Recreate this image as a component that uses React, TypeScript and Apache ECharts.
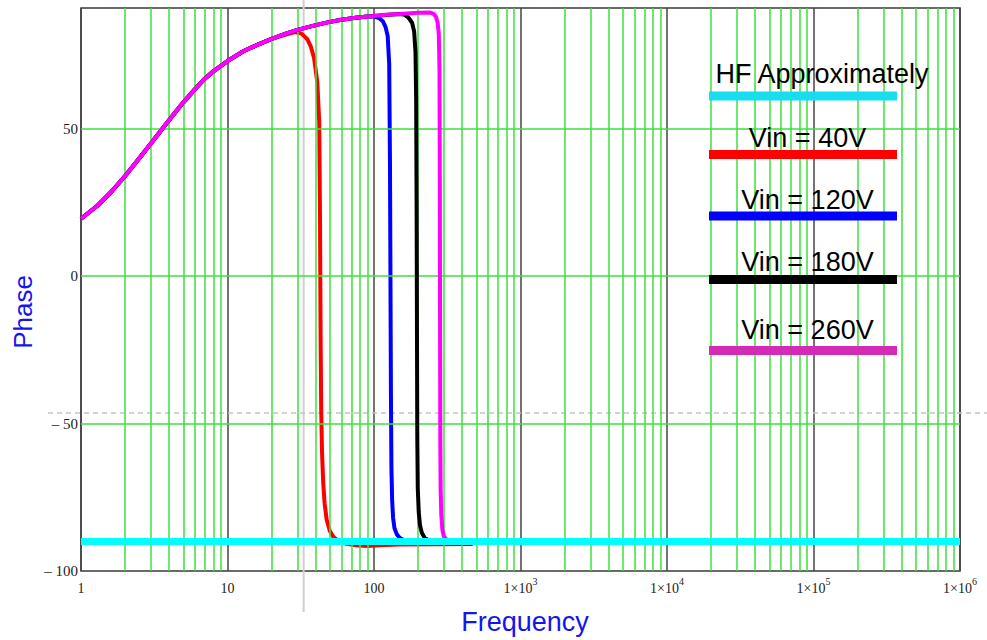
import React, { useEffect, useRef } from "react";
import * as echarts from "echarts";

// ---------- data ----------
// shared low-frequency rise (all Vin curves overlap here)
const commonRise: [number, number][] = [
  [1, 19.5], [1.3, 24], [1.6, 28.5], [2, 34], [2.5, 40], [3, 45], [4, 53],
  [5, 59], [6, 63.5], [7, 67], [8, 69.5], [10, 73], [13, 76.5], [16, 78.5], [20, 80.5],
];
const vin40Tail: [number, number][] = [
  [25, 82], [29, 82.8], [32, 82.3], [35, 80.5], [37, 78], [39, 74], [41, 66],
  [42.3, 52], [42.8, 20], [43.2, -20], [43.6, -45], [44.2, -60], [45, -70],
  [46, -77], [47.5, -82.5], [50, -86.5], [53, -88.5], [58, -90], [65, -90.8],
  [75, -91.3], [90, -91.5], [110, -91.3], [150, -91], [470, -90.8],
];
const highRise: [number, number][] = [
  [25, 82.3], [30, 83.6], [40, 85.2], [50, 86.3], [60, 87], [75, 87.7], [90, 88.1],
];
const vin120Tail: [number, number][] = [
  [100, 88.2], [108, 87.6], [115, 86.5], [120, 84.5], [124, 81.5], [127, 72],
  [128.5, 40], [129.5, 0], [130.5, -40], [131.5, -65], [133, -76], [135, -82],
  [138, -85.5], [143, -87.5], [150, -88.8], [165, -89.8], [200, -90.6], [470, -90.8],
];
const vin180Tail: [number, number][] = [
  [100, 88.3], [120, 88.6], [150, 89], [160, 88.8], [172, 87.7], [182, 86],
  [188, 83], [192, 76], [194, 60], [195.5, 20], [196.5, -20], [197.5, -55],
  [199, -72], [202, -80], [206, -84.5], [212, -87], [222, -88.8], [240, -89.8], [470, -90],
];
const vin260Tail: [number, number][] = [
  [100, 88.3], [120, 88.7], [150, 89], [200, 89.4], [240, 89.5], [255, 89],
  [265, 88], [272, 86], [277, 82], [280, 70], [281.5, 30], [282.5, -20],
  [283.5, -55], [285, -72], [288, -81], [293, -86], [300, -88.3], [315, -89.5],
  [340, -90], [470, -90],
];
const hfApprox: [number, number][] = [[1, -90], [1e6, -90]];

const seriesNames = ["HF Approximately", "Vin = 40V", "Vin = 120V", "Vin = 180V", "Vin = 260V"];
const minorMultipliers = [2, 3, 4, 5, 6, 7, 8, 9];
const decades = [1, 10, 100, 1e3, 1e4, 1e5];
const phaseGridValues = [50, 0, -50];
const cursorFreq = 33.1;
const cursorPhase = -46.4;

// ---------- component ----------
export default function App() {
  const ref = useRef<HTMLDivElement>(null);

  useEffect(() => {
    if (!ref.current) return;
    const chart = echarts.init(ref.current, undefined, { renderer: "svg" });

    const vin40 = [...commonRise, ...vin40Tail];
    const vin120 = [...commonRise, ...highRise, ...vin120Tail];
    const vin180 = [...commonRise, ...highRise, ...vin180Tail];
    const vin260 = [...commonRise, ...highRise, ...vin260Tail];

    const minorX: { xAxis: number }[] = [];
    decades.forEach((d) => minorMultipliers.forEach((m) => minorX.push({ xAxis: m * d })));
    const gridY = phaseGridValues.map((v) => ({ yAxis: v }));

    const serif = '"Liberation Serif", "Times New Roman", serif';
    const sans = '"Liberation Sans", Arial, sans-serif';

    const line = (name: string, data: [number, number][], color: string, width: number, z: number) => ({
      name,
      type: "line",
      data,
      showSymbol: false,
      symbol: "none",
      clip: true,
      z,
      lineStyle: { color, width },
      itemStyle: { color },
    });

    chart.setOption({
      animation: false,
      grid: {
        left: 81,
        right: 27,
        top: 8,
        bottom: 69,
        show: true,
        borderColor: "#3a3a3a",
        borderWidth: 1.5,
        backgroundColor: "transparent",
      },
      xAxis: {
        type: "log",
        logBase: 10,
        min: 1,
        max: 1e6,
        splitNumber: 6,
        axisLine: { show: false },
        axisTick: { show: false },
        splitLine: { show: true, lineStyle: { color: "#444", width: 1.5 } },
        axisLabel: {
          margin: 5,
          showMinLabel: true,
          showMaxLabel: true,
          formatter: (v: number) => {
            const e = Math.round(Math.log10(v));
            if (e < 3) return "{b|" + String(Math.round(v)) + "}";
            return "{b|1×10}{s|" + e + "}";
          },
          rich: {
            b: { fontFamily: serif, fontSize: 14, color: "#222", lineHeight: 19, verticalAlign: "bottom" },
            s: { fontFamily: serif, fontSize: 10, color: "#222", lineHeight: 11, verticalAlign: "top" },
          },
        },
      },
      yAxis: {
        type: "value",
        min: -100,
        max: 91,
        interval: 50,
        axisLine: { show: false },
        axisTick: { show: false },
        splitLine: { show: false },
        axisLabel: {
          margin: 3,
          fontFamily: serif,
          fontSize: 15,
          color: "#222",
          formatter: (v: number) => {
            if (Math.abs(v % 50) > 1e-6) return "";
            return v < 0 ? "– " + String(-v) : String(v);
          },
        },
      },
      series: [
        {
          name: "grid",
          type: "line",
          data: [],
          z: 1,
          silent: true,
          markLine: {
            silent: true,
            symbol: ["none", "none"],
            label: { show: false },
            lineStyle: { color: "#3be23b", width: 1.5, type: "solid" },
            emphasis: { disabled: true },
            data: [...minorX, ...gridY],
          },
        },
        line(seriesNames[1], vin40, "#ff0000", 4, 3),
        line(seriesNames[2], vin120, "#0000ff", 4, 4),
        line(seriesNames[3], vin180, "#000000", 4, 5),
        line(seriesNames[4], vin260, "#ff00ff", 4, 6),
        line(seriesNames[0], hfApprox, "#00ffff", 7, 7),
      ],
    });

    const p = chart.convertToPixel({ gridIndex: 0 }, [cursorFreq, cursorPhase]) as number[];

    const legendColors = ["#18dcf0", "#ff0000", "#0000ff", "#000000", "#d42bb7"];
    const legendLineY = [96, 154.5, 216, 279.5, 350.5];
    const legendTextY = [74, 138, 200, 262, 330];

    const elements: any[] = [
      {
        type: "line",
        z: 1,
        silent: true,
        shape: { x1: p[0], y1: 0, x2: p[0], y2: 612 },
        style: { stroke: "#cfcfcf", lineWidth: 2 },
      },
      {
        type: "line",
        z: 1,
        silent: true,
        shape: { x1: 48, y1: p[1], x2: 987, y2: p[1] },
        style: { stroke: "#c4c4c4", lineWidth: 1.5, lineDash: [5, 4] },
      },
      {
        type: "text",
        x: 23,
        y: 312,
        rotation: Math.PI / 2,
        z: 50,
        style: {
          text: "Phase",
          font: "26px " + sans,
          fill: "#1414f0",
          textAlign: "center",
          textVerticalAlign: "middle",
          align: "center",
          verticalAlign: "middle",
        },
      },
      {
        type: "text",
        x: 525,
        y: 622,
        z: 50,
        style: {
          text: "Frequency",
          font: "27px " + sans,
          fill: "#1414f0",
          textAlign: "center",
          textVerticalAlign: "middle",
          align: "center",
          verticalAlign: "middle",
        },
      },
    ];

    seriesNames.forEach((name, i) => {
      elements.push({
        type: "rect",
        z: 50,
        silent: true,
        shape: { x: 709, y: legendLineY[i] - 4.5, width: 188, height: 9 },
        style: { fill: legendColors[i] },
      });
      const isHF = i === 0;
      elements.push({
        type: "text",
        z: 50,
        x: isHF ? 822 : 807.5,
        y: legendTextY[i],
        style: {
          text: name,
          font: "27px " + sans,
          fill: "#000",
          textAlign: "center",
          textVerticalAlign: "middle",
          align: "center",
          verticalAlign: "middle",
        },
      });
    });

    chart.setOption({ graphic: { elements } });

    return () => chart.dispose();
  }, []);

  return (
    <div
      ref={ref}
      style={{ position: "absolute", left: 0, top: 0, width: 987, height: 640, background: "#fff" }}
    />
  );
}
